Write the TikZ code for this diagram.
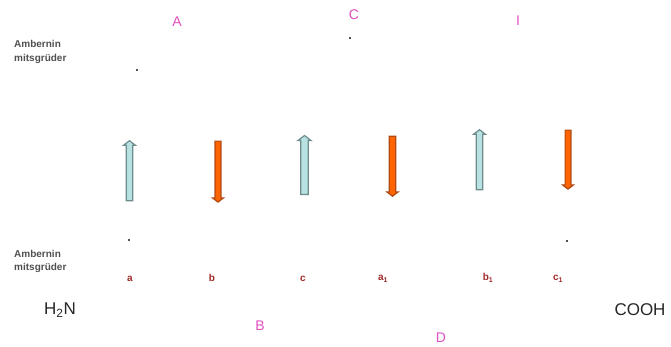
\documentclass[tikz,border=0pt]{standalone}
\usepackage{fontspec}
\setmainfont{Liberation Sans}
\usetikzlibrary{shapes.arrows}
\definecolor{pinkl}{HTML}{E050C0}
\definecolor{strandred}{HTML}{A02828}
\definecolor{bluefill}{HTML}{B8E2E2}
\definecolor{bluedraw}{HTML}{6E8C8C}
\definecolor{orangefill}{HTML}{FF6400}
\definecolor{orangedraw}{HTML}{B04A14}
\definecolor{graytext}{HTML}{505050}
\tikzset{
  looplabel/.style={text=pinkl, font=\fontsize{14}{16}\selectfont, inner sep=0pt},
  strandlabel/.style={text=strandred, font=\bfseries\fontsize{10}{11}\selectfont, inner sep=0pt},
  sidelabel/.style={text=graytext, font=\bfseries\fontsize{10}{11}\selectfont, inner sep=0pt, anchor=west, align=left},
  endlabel/.style={text=black!85, font=\fontsize{17}{19}\selectfont, inner sep=0pt},
  upstrand/.style={single arrow, shape border rotate=90, fill=bluefill, draw=bluedraw, line width=1.2pt,
    minimum width=12pt, inner sep=2.5pt, single arrow head extend=2.5pt, single arrow tip angle=105},
  downstrand/.style={single arrow, shape border rotate=270, fill=orangefill, draw=orangedraw, line width=1.2pt,
    minimum width=11pt, inner sep=2.2pt, single arrow head extend=2.5pt, single arrow tip angle=105},
  dotmark/.style={fill=graytext, inner sep=0pt, minimum size=2.5pt, rectangle}
}
\begin{document}
\begin{tikzpicture}[x=1pt,y=-1pt]
\useasboundingbox (0,0) rectangle (671,347);
% loop labels
\node[looplabel] (A) at (177,22) {A};
\node[looplabel] (C) at (354,15) {C};
\node[looplabel] (I) at (518,21) {I};
\node[looplabel] (B) at (260,326) {B};
\node[looplabel] (D) at (441,338) {D};
% dots
\node[dotmark] (d1) at (137,70) {};
\node[dotmark] (d2) at (350,38) {};
\node[dotmark] (d3) at (129,240) {};
\node[dotmark] (d4) at (567,241) {};
% side labels
\node[sidelabel] (top1) at (14,44) {Ambernin};
\node[sidelabel] (top2) at (14,59) {mitsgrüder};
\node[sidelabel] (bot1) at (14,254) {Ambernin};
\node[sidelabel] (bot2) at (14,268) {mitsgrüder};
% strands
\node[upstrand, minimum height=60pt] (sa) at (129.5,172) {};
\node[downstrand, minimum height=61pt] (sb) at (218,170.5) {};
\node[upstrand, minimum height=59pt, minimum width=13pt, inner sep=3pt] (sc) at (304.5,166.5) {};
\node[downstrand, minimum height=60pt, inner sep=2.6pt] (sa1) at (392.5,165) {};
\node[upstrand, minimum height=60pt] (sb1) at (479.5,161) {};
\node[downstrand, minimum height=59pt] (sc1) at (568,158.5) {};
% strand labels
\node[strandlabel] (la) at (130,279) {a};
\node[strandlabel] (lb) at (212,278) {b};
\node[strandlabel] (lc) at (303,279) {c};
\node[strandlabel] (la1) at (383,279) {a\textsubscript{1}};
\node[strandlabel] (lb1) at (488,278) {b\textsubscript{1}};
\node[strandlabel] (lc1) at (558,279) {c\textsubscript{1}};
% termini
\node[endlabel] (N) at (60,310) {H\textsubscript{2}N};
\node[endlabel] (COOH) at (640,310) {COOH};
\end{tikzpicture}
\end{document}
